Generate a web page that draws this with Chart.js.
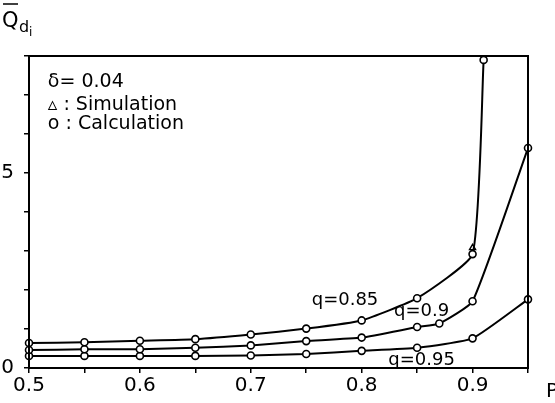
<!DOCTYPE html>
<html>
<head>
<meta charset="utf-8">
<script src="https://cdn.jsdelivr.net/npm/chart.js@4"></script>
<style>
  html, body { margin: 0; padding: 0; background: #fff; }
  #wrap { width: 555px; height: 403px; position: relative; }
</style>
</head>
<body>
<div id="wrap"><canvas id="chart"></canvas></div>
<script>
/* ---------------- DATA ---------------- */
const P_085 = [0.5, 0.55, 0.6, 0.65, 0.7, 0.75, 0.8, 0.85, 0.9, 0.91];
const Q_085 = [0.64, 0.66, 0.70, 0.74, 0.86, 1.01, 1.22, 1.79, 2.92, 7.9];
const P_090 = [0.5, 0.55, 0.6, 0.65, 0.7, 0.75, 0.8, 0.85, 0.87, 0.9, 0.95];
const Q_090 = [0.46, 0.48, 0.48, 0.52, 0.58, 0.69, 0.78, 1.05, 1.14, 1.71, 5.64];
const P_095 = [0.5, 0.55, 0.6, 0.65, 0.7, 0.75, 0.8, 0.85, 0.9, 0.95];
const Q_095 = [0.31, 0.31, 0.31, 0.31, 0.32, 0.36, 0.44, 0.52, 0.76, 1.76];
const SIM_P = [0.9];                  // simulation (triangle)
const SIM_Q = [3.08];
const CURVE_LABELS = ["q=0.85", "q=0.9", "q=0.95"];
const LABEL_POS = [[0.785, 1.74], [0.854, 1.46], [0.854, 0.2]];  // data coords (text centre)
const LEGEND_LINES = ["δ= 0.04", "▵ : Simulation", "o : Calculation"];
const LEGEND_X = 0.517;
const LEGEND_Y = [7.33, 6.74, 6.26];
/* -------------------------------------- */

const FONT = "'DejaVu Sans', sans-serif";

function pts(xs, ys){ return xs.map((x, i) => ({x: x, y: ys[i]})); }

function curve(xs, ys){
    return {
        data: pts(xs, ys),
        borderColor: '#000',
        borderWidth: 2,
        tension: 0.15,
        pointRadius: 3.5,
        pointBorderWidth: 1.6,
        pointBackgroundColor: '#fff',
        pointBorderColor: '#000',
        clip: false
    };
}

/* frame + texts */
const decor = {
    id: 'decor',
    afterDraw(chart){
        const c = chart.ctx, a = chart.chartArea;
        const xs = chart.scales.x, ys = chart.scales.y;
        c.save();
        c.strokeStyle = '#000';
        c.lineWidth = 2;
        c.strokeRect(a.left, a.top, a.right - a.left, a.bottom - a.top);

        c.fillStyle = '#000';
        c.textBaseline = 'middle';
        c.font = '18px ' + FONT;
        CURVE_LABELS.forEach((t, i) => {
            c.textAlign = 'center';
            c.fillText(t, xs.getPixelForValue(LABEL_POS[i][0]), ys.getPixelForValue(LABEL_POS[i][1]));
        });
        c.textAlign = 'left';
        c.font = '19px ' + FONT;
        LEGEND_LINES.forEach((t, i) => {
            c.fillText(t, xs.getPixelForValue(LEGEND_X), ys.getPixelForValue(LEGEND_Y[i]));
        });

        // x-axis name
        c.font = '20px ' + FONT;
        c.fillText('P', a.right + 18, a.bottom + 24);

        // y-axis name: Q bar, sub d, sub i
        c.font = '21px ' + FONT;
        c.textBaseline = 'alphabetic';
        c.fillText('Q', 2, 27);
        c.lineWidth = 1.5;
        c.beginPath(); c.moveTo(3, 4); c.lineTo(18, 4); c.stroke();
        c.font = '16px ' + FONT;
        c.fillText('d', 19, 32);
        c.font = '12px ' + FONT;
        c.fillText('i', 29, 36);
        c.restore();
    }
};

new Chart(document.getElementById('chart'), {
    type: 'line',
    data: {
        datasets: [
            curve(P_085, Q_085),
            curve(P_090, Q_090),
            curve(P_095, Q_095),
            {
                data: pts(SIM_P, SIM_Q),
                showLine: false,
                pointStyle: 'triangle',
                pointRadius: 3.5,
                pointBorderWidth: 1.4,
                pointBackgroundColor: '#fff',
                pointBorderColor: '#000'
            }
        ]
    },
    options: {
        responsive: true,
        maintainAspectRatio: false,
        animation: false,
        layout: { padding: { top: 56, right: 27, left: 0, bottom: 0 } },
        plugins: { legend: { display: false }, tooltip: { enabled: false } },
        scales: {
            x: {
                type: 'linear',
                min: 0.5, max: 0.95,
                border: { display: true, color: '#000', width: 2 },
                grid: { drawOnChartArea: false, color: '#000', tickLength: 5, lineWidth: 1.5 },
                ticks: {
                    stepSize: 0.05,
                    color: '#000',
                    font: { family: FONT, size: 20 },
                    padding: 1,
                    maxRotation: 0,
                    autoSkip: false,
                    callback: v => {
                        const n = Math.round(v * 100);
                        return n % 10 === 0 ? (n / 100).toFixed(1) : '';
                    }
                },
                afterFit: s => { s.height = 35; }
            },
            y: {
                min: 0, max: 8,
                border: { display: true, color: '#000', width: 2 },
                grid: { drawOnChartArea: false, color: '#000', tickLength: 5, lineWidth: 1.5 },
                ticks: {
                    stepSize: 1,
                    color: '#000',
                    font: { family: FONT, size: 20 },
                    padding: 10,
                    callback: v => (v === 0 || v === 5) ? String(v) : ''
                },
                afterFit: s => { s.width = 29; }
            }
        }
    },
    plugins: [decor]
});
</script>
</body>
</html>
